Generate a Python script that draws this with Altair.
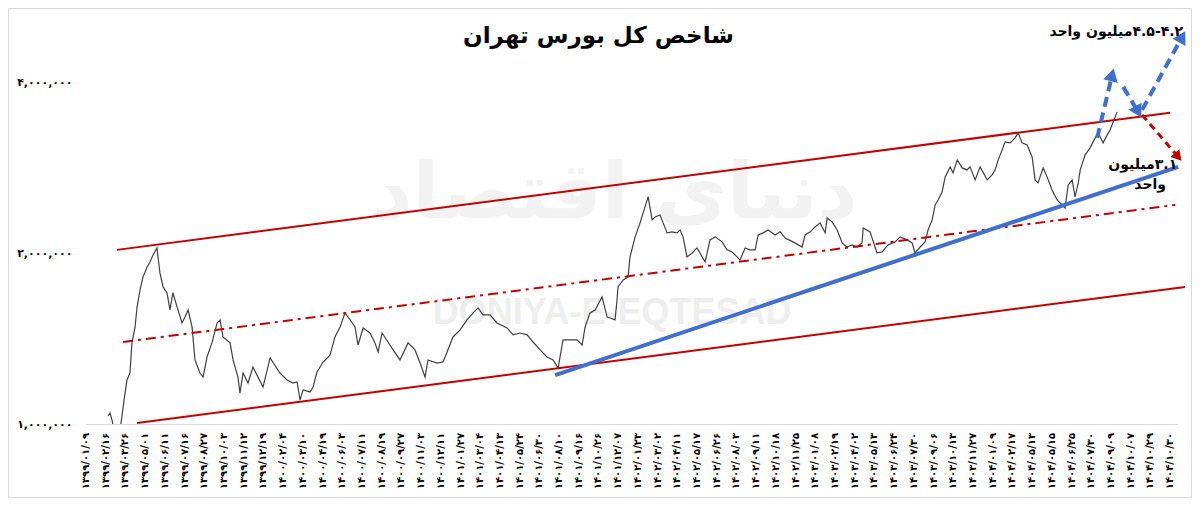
import altair as alt
import pandas as pd

# ---------------- data ----------------
x_labels = [
    "۱۳۹۹/۰۱/۰۹", "۱۳۹۹/۰۲/۱۶", "۱۳۹۹/۰۳/۲۶", "۱۳۹۹/۰۵/۰۱", "۱۳۹۹/۰۶/۱۱", "۱۳۹۹/۰۷/۱۶",
    "۱۳۹۹/۰۸/۲۷", "۱۳۹۹/۱۰/۰۳", "۱۳۹۹/۱۱/۱۲", "۱۳۹۹/۱۲/۱۹", "۱۴۰۰/۰۲/۰۴", "۱۴۰۰/۰۳/۱۰",
    "۱۴۰۰/۰۴/۱۹", "۱۴۰۰/۰۶/۰۳", "۱۴۰۰/۰۷/۱۱", "۱۴۰۰/۰۸/۱۹", "۱۴۰۰/۰۹/۲۷", "۱۴۰۰/۱۱/۰۳",
    "۱۴۰۰/۱۲/۱۱", "۱۴۰۱/۰۱/۲۷", "۱۴۰۱/۰۳/۰۴", "۱۴۰۱/۰۴/۱۳", "۱۴۰۱/۰۵/۲۴", "۱۴۰۱/۰۶/۳۰",
    "۱۴۰۱/۰۸/۱۰", "۱۴۰۱/۰۹/۱۶", "۱۴۰۱/۱۰/۲۶", "۱۴۰۱/۱۲/۰۷", "۱۴۰۲/۰۱/۲۳", "۱۴۰۲/۰۳/۰۲",
    "۱۴۰۲/۰۴/۱۱", "۱۴۰۲/۰۵/۱۷", "۱۴۰۲/۰۶/۲۶", "۱۴۰۲/۰۸/۰۳", "۱۴۰۲/۰۹/۱۱", "۱۴۰۲/۱۰/۱۸",
    "۱۴۰۲/۱۱/۲۵", "۱۴۰۳/۰۱/۰۸", "۱۴۰۳/۰۲/۱۹", "۱۴۰۳/۰۴/۰۲", "۱۴۰۳/۰۵/۱۳", "۱۴۰۳/۰۶/۲۴",
    "۱۴۰۳/۰۷/۳۰", "۱۴۰۳/۰۹/۰۶", "۱۴۰۳/۱۰/۱۳", "۱۴۰۳/۱۱/۲۷", "۱۴۰۴/۰۱/۰۹", "۱۴۰۴/۰۲/۱۷",
    "۱۴۰۴/۰۵/۱۳", "۱۴۰۴/۰۵/۱۵", "۱۴۰۴/۰۶/۲۵", "۱۴۰۴/۰۷/۳۰", "۱۴۰۴/۰۹/۰۹", "۱۴۰۴/۱۰/۰۷",
    "۱۴۰۴/۱۰/۲۹", "۱۴۰۴/۱۰/۳۰",
]
y_ticks = [1000000, 2000000, 4000000]
y_tick_labels = ["۱,۰۰۰,۰۰۰", "۲,۰۰۰,۰۰۰", "۴,۰۰۰,۰۰۰"]

# position along the category axis (in label steps) and index level (thousand units)
period = [
    1.12, 1.22, 1.32, 1.42, 1.73, 1.83, 1.93, 2.08, 2.23, 2.33, 2.49, 2.59, 2.74, 2.89, 3.10,
    3.25, 3.40, 3.60, 3.75, 3.91, 4.11, 4.26, 4.41, 4.62, 4.87, 5.02, 5.18, 5.38, 5.53, 5.78,
    5.94, 6.14, 6.39, 6.65, 6.80, 6.95, 7.31, 7.46, 7.71, 7.81, 7.97, 8.22, 8.47, 8.98, 9.34,
    9.84, 10.20, 10.50, 10.71, 10.86, 11.01, 11.37, 11.52, 11.72, 12.03, 12.38, 12.63, 12.89,
    13.14, 13.40, 13.65, 13.80, 14.06, 14.41, 14.66, 14.82, 15.02, 15.32, 15.58, 15.93, 16.34,
    16.69, 16.95, 17.20, 17.35, 17.81, 18.11, 18.32, 18.62, 18.98, 19.33, 19.64, 19.89, 20.14,
    20.50, 20.85, 21.36, 21.67, 22.02, 22.38, 22.68, 23.04, 23.39, 23.70, 23.95, 24.20, 24.56,
    24.91, 25.17, 25.32, 25.57, 25.83, 26.18, 26.44, 26.59, 26.84, 26.94, 26.99, 27.25, 27.50,
    27.60, 27.86, 28.11, 28.36, 28.52, 28.72, 28.87, 29.12, 29.28, 29.48, 29.73, 29.99, 30.14,
    30.29, 30.49, 30.75, 31.00, 31.26, 31.41, 31.66, 31.92, 32.27, 32.52, 32.78, 33.03, 33.18,
    33.44, 33.69, 33.95, 34.10, 34.35, 34.61, 34.96, 35.21, 35.47, 35.87, 36.33, 36.48, 36.74,
    36.99, 37.24, 37.50, 37.60, 37.85, 38.11, 38.36, 38.61, 38.87, 39.12, 39.37, 39.43, 39.78,
    40.03, 40.13, 40.39, 40.69, 41.05, 41.30, 41.66, 41.91, 42.06, 42.32, 42.57, 42.72, 42.93,
    43.08, 43.23, 43.43, 43.59, 43.84, 43.99, 44.20, 44.45, 44.70, 44.85, 45.11, 45.36, 45.72,
    45.97, 46.12, 46.28, 46.48, 46.63, 46.88, 47.14, 47.29, 47.49, 47.75, 48.00, 48.15, 48.30,
    48.56, 48.76, 49.01, 49.27, 49.52, 49.67, 49.83, 50.03, 50.18, 50.34, 50.44, 50.69, 50.94,
    51.20, 51.35, 51.60, 51.81, 51.96, 52.31,
]
index_k = [
    1033, 1046, 1016, 976, 976, 1037, 1102, 1196, 1230, 1390, 1483, 1608, 1723, 1816, 1892,
    1931, 1987, 2044, 1847, 1745, 1703, 1589, 1703, 1609, 1507, 1544, 1589, 1483, 1297, 1230,
    1210, 1313, 1390, 1507, 1526, 1424, 1390, 1297, 1210, 1134, 1230, 1181, 1260, 1162, 1308,
    1230, 1196, 1181, 1186, 1102, 1148, 1139, 1162, 1235, 1286, 1323, 1424, 1483,
    1570, 1526, 1483, 1378, 1477, 1447, 1390, 1340, 1447, 1395, 1351, 1297, 1390,
    1351, 1281, 1210, 1297, 1281, 1286, 1340, 1424, 1465, 1526, 1570, 1602, 1557,
    1557, 1507, 1477, 1436, 1447, 1436, 1395, 1351, 1313, 1297, 1255, 1407, 1407,
    1407, 1378, 1483, 1570, 1589, 1675, 1544, 1538, 1526, 1655, 1745, 1795, 1816,
    1971, 2138, 2263, 2415, 2515, 2291, 2318, 2337, 2263, 2173, 2182, 2173, 2199,
    2138, 1971, 2003, 2044, 1971, 1931, 2112, 2138, 2095, 2028, 2011, 1971, 1947,
    2044, 2028, 2028, 2155, 2173, 2199, 2155, 2182, 2129, 2095, 2052, 2155, 2182,
    2226, 2263, 2173, 2309, 2272, 2199, 2086, 2052, 2069, 2052, 2086, 2217, 2182,
    2052, 2003, 2011, 2069, 2095, 2138, 2112, 2086, 2003, 2052, 2095, 2199, 2291,
    2434, 2484, 2566, 2728, 2841, 2772, 2923, 2829, 2806, 2841, 2695, 2841, 2695,
    2750, 2806, 2923, 3044, 3145, 3132, 3196, 3262, 3132, 3106, 2958, 2695, 2662,
    2829, 2728, 2587, 2484, 2434, 2405, 2640, 2695, 2515, 2662, 2806, 2983, 3069,
    3196, 3262, 3132, 3235, 3302, 3552,
]

# channel and trend lines (start / end)
channel_names = ["upper", "upper", "middle", "middle", "lower", "lower"]
channel_period = [1.57, 55.00, 1.88, 55.26, 2.59, 55.76]
channel_k = [2028, 3538, 1395, 2434, 1004, 1745]

trend_period = [23.80, 55.41]
trend_k = [1220, 2841]

# scenario arrows
blue_arrow_id = ["a1", "a1", "a2", "a2", "a3", "a3"]
blue_arrow_period = [51.30, 52.06, 52.62, 53.38, 53.58, 55.61]
blue_arrow_k = [3196, 4128, 3931, 3552, 3581, 4817]
blue_head_period = [52.06, 53.38, 55.61]
blue_head_k = [4128, 3552, 4817]
blue_head_angle = [14, 151, 29]

red_arrow_period = [53.58, 55.41]
red_arrow_k = [3509, 2958]
red_head_period = [55.41]
red_head_k = [2958]
red_head_angle = [139]

RLE, PDF = "\u202b", "\u202c"
note_text = [RLE + "۴.۵-۴.۲میلیون واحد" + PDF, RLE + "۳.۱میلیون" + PDF, "واحد"]
note_period = [55.66, 55.36, 53.99]
note_k = [4916, 2864, 2640]
note_align = ["right", "right", "center"]

watermark_text = ["دنیای اقتصاد", "DONIYA-E-EQTESAD"]
watermark_period = [26.84, 26.69]
watermark_k = [2530, 1570]

title_text = "شاخص کل بورس تهران"

# ---------------- frames ----------------
series = pd.DataFrame({"p": period, "v": [x * 1000 for x in index_k]})
series["o"] = range(len(series))
channels = pd.DataFrame({"name": channel_names, "p": channel_period, "v": [x * 1000 for x in channel_k]})
trend = pd.DataFrame({"p": trend_period, "v": [x * 1000 for x in trend_k]})
blue_arrows = pd.DataFrame({"id": blue_arrow_id, "p": blue_arrow_period,
                            "v": [x * 1000 for x in blue_arrow_k]})
blue_arrows["o"] = range(len(blue_arrows))
blue_heads = pd.DataFrame({"p": blue_head_period, "v": [x * 1000 for x in blue_head_k],
                           "a": blue_head_angle})
red_arrow = pd.DataFrame({"p": red_arrow_period, "v": [x * 1000 for x in red_arrow_k]})
red_heads = pd.DataFrame({"p": red_head_period, "v": [x * 1000 for x in red_head_k],
                          "a": red_head_angle})
notes = pd.DataFrame({"t": note_text, "p": note_period, "v": [x * 1000 for x in note_k]})
wm = pd.DataFrame({"t": watermark_text, "p": watermark_period, "v": [x * 1000 for x in watermark_k]})
xlab = pd.DataFrame({"p": list(range(len(x_labels))), "t": x_labels})

W, H = 1091, 406
X_MAX = 55.35
Y_DOMAIN = [1000000, 5200000]

y_label_expr = " : ".join(
    f"datum.value == {v} ? '{s}'" for v, s in zip(y_ticks, y_tick_labels)
) + " : ''"

FONT = "DejaVu Sans"

x_enc = alt.X(
    "p:Q",
    scale=alt.Scale(domain=[0, X_MAX], nice=False, zero=False),
    axis=alt.Axis(
        labels=False,
        ticks=False,
        grid=False,
        domainColor="#d9d9d9",
        domainWidth=1,
        title=None,
    ),
)
y_enc = alt.Y(
    "v:Q",
    scale=alt.Scale(type="log", domain=Y_DOMAIN, nice=False),
    axis=alt.Axis(
        values=y_ticks,
        labelExpr=y_label_expr,
        labelPadding=14,
        labelFontSize=11,
        labelFontWeight="bold",
        labelFont=FONT,
        labelColor="#000000",
        ticks=False,
        grid=False,
        domain=False,
        title=None,
    ),
)
x_plain = alt.X("p:Q")
y_plain = alt.Y("v:Q")

RED = "#c00000"
BLUE = "#4170cc"

frame = alt.Chart(pd.DataFrame({"d": [0]})).mark_rect(
    fill=None, stroke="#d9d9d9", strokeWidth=1
).encode(
    x=alt.value(-77.5), x2=alt.value(W + 14.5), y=alt.value(-9.5), y2=alt.value(H + 73.5)
)

wm_layer = alt.Chart(wm.iloc[[0]]).mark_text(
    font=FONT, fontSize=78, fontWeight="bold", color="#f2f2f2", align="center", baseline="middle"
).encode(x=x_plain, y=y_plain, text="t:N")
wm_layer2 = alt.Chart(wm.iloc[[1]]).mark_text(
    font="Liberation Sans", fontSize=36, fontWeight="bold", color="#eeeeee",
    align="center", baseline="middle"
).encode(x=x_plain, y=y_plain, text="t:N")

line_layer = alt.Chart(series).mark_line(
    color="#404040", strokeWidth=1.2, clip=True
).encode(x=x_enc, y=y_enc, order="o:Q")

xlab_layer = alt.Chart(xlab).mark_text(
    font=FONT, fontSize=10, fontWeight="bold", color="#000000",
    angle=270, align="right", baseline="middle"
).encode(x=x_plain, y=alt.value(H + 9), text="t:N")

solid_ch = alt.Chart(channels[channels["name"] != "middle"]).mark_line(
    color=RED, strokeWidth=2
).encode(x=x_plain, y=y_plain, detail="name:N")
mid_ch = alt.Chart(channels[channels["name"] == "middle"]).mark_line(
    color=RED, strokeWidth=2, strokeDash=[10, 5, 3, 5]
).encode(x=x_plain, y=y_plain)

trend_layer = alt.Chart(trend).mark_line(color=BLUE, strokeWidth=4).encode(x=x_plain, y=y_plain)

blue_arrow_layer = alt.Chart(blue_arrows).mark_line(
    color=BLUE, strokeWidth=4, strokeDash=[10, 6]
).encode(x=x_plain, y=y_plain, detail="id:N", order="o:Q")
blue_head_layer = alt.Chart(blue_heads).mark_point(
    shape="triangle-up", filled=True, size=220, color=BLUE, opacity=1
).encode(x=x_plain, y=y_plain, angle=alt.Angle("a:Q", scale=None))

red_arrow_layer = alt.Chart(red_arrow).mark_line(
    color=RED, strokeWidth=3, strokeDash=[7, 5]
).encode(x=x_plain, y=y_plain)
red_head_layer = alt.Chart(red_heads).mark_point(
    shape="triangle-up", filled=True, size=140, color=RED, opacity=1
).encode(x=x_plain, y=y_plain, angle=alt.Angle("a:Q", scale=None))

note_layers = [
    alt.Chart(notes.iloc[[i]]).mark_text(
        font=FONT, fontSize=14, fontWeight="bold", color="#000000",
        align=note_align[i], baseline="middle"
    ).encode(x=x_plain, y=y_plain, text="t:N")
    for i in range(len(note_text))
]

chart = alt.layer(
    frame, wm_layer, wm_layer2, line_layer, xlab_layer, solid_ch, mid_ch, trend_layer,
    red_arrow_layer, red_head_layer, blue_arrow_layer, blue_head_layer, *note_layers
).properties(
    width=W,
    height=H,
    autosize=alt.AutoSizeParams(type="none"),
    padding={"left": 78, "top": 10, "right": 15, "bottom": 74},
    background="#ffffff",
    title=alt.TitleParams(
        title_text, font=FONT, fontSize=23, fontWeight="bold", color="#000000",
        anchor="middle", offset=-58, dx=-33, baseline="alphabetic"
    ),
).configure_view(stroke=None)

chart.save("out.html", embed_options={"renderer": "svg", "actions": False})
